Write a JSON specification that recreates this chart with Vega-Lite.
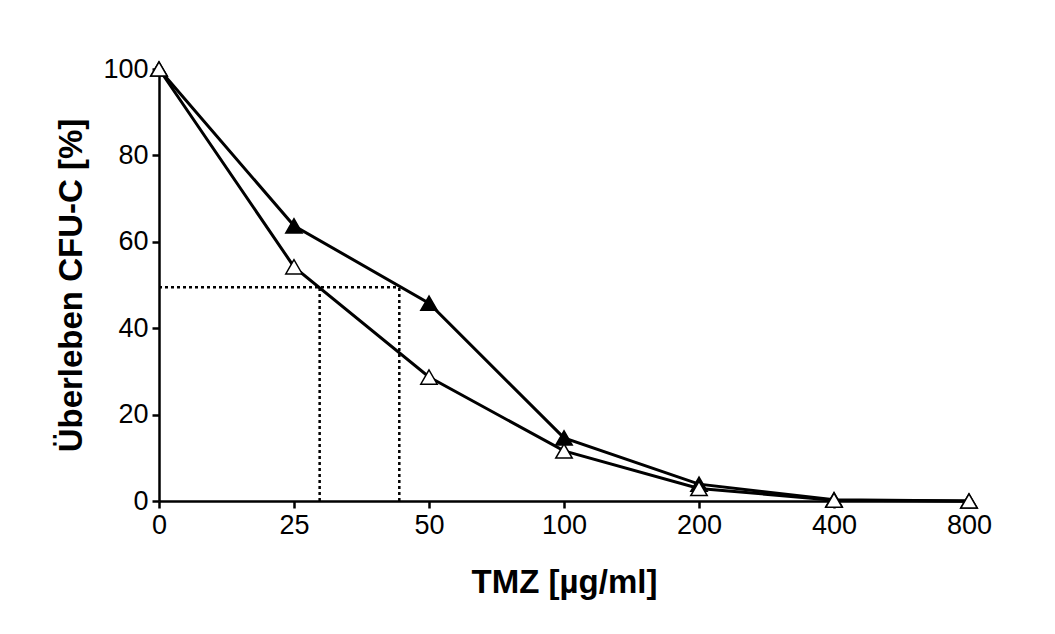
{
  "$schema": "https://vega.github.io/schema/vega-lite/v6.json",
  "width": 810,
  "height": 432,
  "autosize": {"type": "none"},
  "padding": {"left": 159, "top": 69, "right": 86, "bottom": 133},
  "background": "white",
  "config": {
    "view": {"stroke": null},
    "font": "Liberation Sans",
    "axis": {
      "grid": false,
      "domainColor": "black",
      "domainWidth": 2.5,
      "tickColor": "black",
      "tickWidth": 2.5,
      "tickSize": 7,
      "labelColor": "black",
      "labelFont": "Liberation Sans",
      "labelFontSize": 27,
      "labelPadding": 4,
      "labelFlush": false,
      "labelOverlap": false,
      "titleColor": "black",
      "titleFont": "Liberation Sans",
      "titleFontSize": 33,
      "titleFontWeight": "bold"
    }
  },
  "datasets": {
    "survival": [
      {"dose": "0", "pos": 0, "series": "filled", "value": 100},
      {"dose": "25", "pos": 1, "series": "filled", "value": 63.7},
      {"dose": "50", "pos": 2, "series": "filled", "value": 45.8},
      {"dose": "100", "pos": 3, "series": "filled", "value": 14.6},
      {"dose": "200", "pos": 4, "series": "filled", "value": 3.9},
      {"dose": "400", "pos": 5, "series": "filled", "value": 0.3},
      {"dose": "800", "pos": 6, "series": "filled", "value": 0},
      {"dose": "0", "pos": 0, "series": "open", "value": 100},
      {"dose": "25", "pos": 1, "series": "open", "value": 54.2},
      {"dose": "50", "pos": 2, "series": "open", "value": 28.7},
      {"dose": "100", "pos": 3, "series": "open", "value": 11.6},
      {"dose": "200", "pos": 4, "series": "open", "value": 2.9},
      {"dose": "400", "pos": 5, "series": "open", "value": 0.2},
      {"dose": "800", "pos": 6, "series": "open", "value": 0}
    ],
    "ic50": [
      {"pos": 0, "pos2": 1.78, "value": 49.5, "value2": 49.5},
      {"pos": 1.19, "pos2": 1.19, "value": 0, "value2": 49.5},
      {"pos": 1.78, "pos2": 1.78, "value": 0, "value2": 49.5}
    ]
  },
  "encoding": {
    "x": {
      "field": "pos",
      "type": "quantitative",
      "scale": {"domain": [0, 6], "nice": false, "zero": false},
      "axis": {
        "title": "TMZ [µg/ml]",
        "values": [0, 1, 2, 3, 4, 5, 6],
        "labelExpr": "['0','25','50','100','200','400','800'][datum.value]",
        "titleBaseline": "alphabetic",
        "titleY": 91
      }
    },
    "y": {
      "field": "value",
      "type": "quantitative",
      "scale": {"domain": [0, 100], "nice": false},
      "axis": {
        "title": "Überleben CFU-C [%]",
        "values": [0, 20, 40, 60, 80, 100],
        "titlePadding": 14
      }
    }
  },
  "layer": [
    {
      "data": {"name": "ic50"},
      "mark": {"type": "rule", "color": "black", "strokeWidth": 2.5, "strokeDash": [3, 3]},
      "encoding": {
        "x2": {"field": "pos2"},
        "y2": {"field": "value2"}
      }
    },
    {
      "data": {"name": "survival"},
      "mark": {"type": "line", "color": "black", "strokeWidth": 3},
      "encoding": {
        "detail": {"field": "series"},
        "order": {"field": "pos", "type": "quantitative"}
      }
    },
    {
      "data": {"name": "survival"},
      "mark": {"type": "point", "shape": "triangle-up", "filled": true, "size": 270, "stroke": "black", "strokeWidth": 1.5, "opacity": 1},
      "encoding": {
        "fill": {
          "field": "series",
          "type": "nominal",
          "scale": {"domain": ["filled", "open"], "range": ["black", "white"]},
          "legend": null
        }
      }
    }
  ]
}
